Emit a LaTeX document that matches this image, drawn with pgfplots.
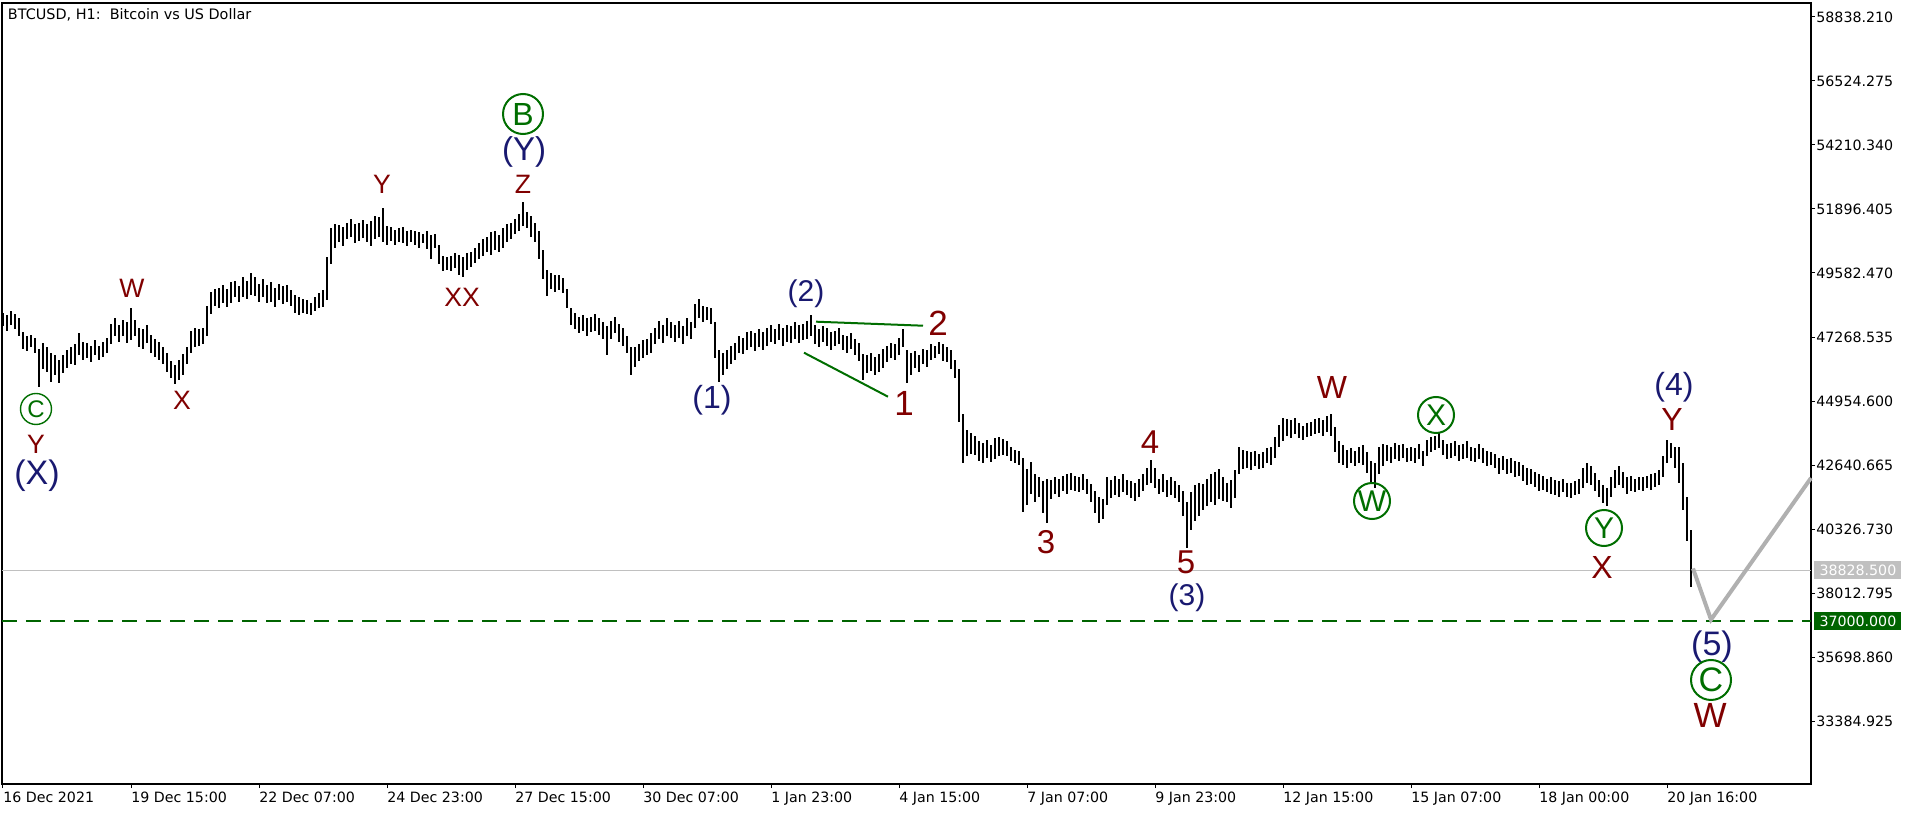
\documentclass[border=0pt]{standalone}
\usepackage{fontspec}
\setmainfont{DejaVu Sans}
\newfontfamily\arialf{Liberation Sans}
\usepackage{pgfplots}
\usepackage{pgfplotstable}
\pgfplotsset{compat=1.18}

\definecolor{ewred}{RGB}{128,0,0}
\definecolor{ewblue}{RGB}{25,25,112}
\definecolor{ewgreen}{RGB}{0,110,0}
\definecolor{lvlgreen}{RGB}{0,100,0}
\definecolor{lvlgray}{RGB}{192,192,192}
\definecolor{prjgray}{RGB}{176,176,176}

\newcommand\tkf{\fontsize{7.1}{8.5}\selectfont}
\newcommand\lbl[1]{\arialf\fontsize{#1}{#1}\selectfont}

% 2-hour high/low bars (t = hours from 16 Dec 23:00)
\pgfplotstableread{
t lo hi
0 47650 48150
2 47500 48050
4 47700 48200
6 47550 48100
8 47300 47950
10 46850 47450
12 46750 47300
14 46900 47350
16 46700 47250
18 45460 46850
20 46100 47050
22 46000 46900
24 45650 46700
26 45900 46600
28 45600 46450
30 45950 46600
32 46150 46800
34 46300 46900
36 46250 47000
38 46600 47400
40 46450 47100
42 46500 47050
44 46350 46950
46 46600 47150
48 46450 46950
50 46550 47100
52 46700 47250
54 47000 47750
56 47300 47950
58 47100 47700
60 47300 47900
62 47050 47800
64 47150 48320
66 47300 47900
68 46900 47600
70 46850 47550
72 47050 47700
74 46700 47350
76 46550 47200
78 46450 47100
80 46300 46900
82 46000 46700
84 45800 46400
86 45570 46250
88 45700 46450
90 45900 46650
92 46300 46900
94 46700 47500
96 46900 47600
98 46950 47550
100 47000 47600
102 47300 48400
104 48100 48900
106 48400 49000
108 48300 49050
110 48500 49150
112 48350 49000
114 48500 49250
116 48700 49300
118 48550 49100
120 48700 49450
122 48650 49300
124 48800 49580
126 48750 49450
128 48550 49200
130 48700 49350
132 48500 49150
134 48550 49250
136 48350 49050
138 48600 49200
140 48450 49100
142 48550 49150
144 48400 48950
146 48150 48800
148 48050 48700
150 48150 48650
152 48100 48600
154 48050 48500
156 48200 48700
158 48300 48850
160 48350 48950
162 48600 50150
164 49900 51200
166 50500 51350
168 50700 51300
170 50550 51250
172 50800 51400
174 50900 51550
176 50650 51350
178 50750 51400
180 50850 51500
182 50700 51350
184 50550 51450
186 50800 51650
188 50900 51600
190 50700 51930
192 50600 51300
194 50750 51250
196 50600 51150
198 50700 51200
200 50650 51250
202 50550 51100
204 50700 51150
206 50600 51100
208 50500 51050
210 50650 51000
212 50450 51100
214 50100 50950
216 50500 51000
218 49900 50600
220 49650 50200
222 49700 50150
224 49650 50200
226 49750 50300
228 49500 50250
230 49440 50150
232 49700 50300
234 49800 50350
236 49950 50500
238 50100 50650
240 50200 50800
242 50350 50900
244 50250 51050
246 50400 51100
248 50350 50950
250 50500 51200
252 50700 51350
254 50800 51400
256 51000 51550
258 51100 51700
260 51300 52150
262 51200 51800
264 50900 51650
266 50700 51400
268 50100 51100
270 49350 50400
272 48750 49700
274 49000 49600
276 48900 49500
278 48950 49500
280 48850 49400
282 48300 49000
284 47700 48300
286 47550 48150
288 47400 48000
290 47500 48050
292 47300 47950
294 47450 48000
296 47500 48100
298 47350 47950
300 47200 47800
302 46620 47650
304 47200 47850
306 47400 48000
308 47100 47750
310 46950 47600
312 46700 47300
314 45890 46900
316 46200 46900
318 46400 47000
320 46500 47150
322 46600 47200
324 46700 47400
326 47000 47600
328 47200 47850
330 47050 47700
332 47300 47950
334 47250 47800
336 47100 47700
338 47250 47850
340 47000 47650
342 47300 47950
344 47200 47800
346 47600 48450
348 47950 48640
350 47800 48400
352 47900 48350
354 47750 48300
356 46500 47800
358 45640 46800
360 45900 46700
362 46100 46800
364 46300 46950
366 46450 47050
368 46700 47300
370 46650 47250
372 46800 47450
374 46900 47500
376 46750 47400
378 46900 47550
380 46800 47450
382 46950 47600
384 47100 47700
386 47000 47550
388 47150 47750
390 46950 47600
392 47100 47700
394 47050 47650
396 47200 47800
398 47050 47700
400 47150 47750
402 47200 47850
404 47300 48060
406 47000 47700
408 46900 47550
410 47100 47650
412 46950 47600
414 46800 47450
416 46950 47500
418 47000 47600
420 46800 47350
422 46700 47300
424 46850 47400
426 46600 47200
428 46400 47050
430 45710 46650
432 45950 46600
434 46050 46700
436 45900 46550
438 46000 46650
440 46150 46850
442 46350 46950
444 46500 47050
446 46450 47000
448 46600 47250
450 46900 47560
452 45600 46800
454 45900 46700
456 46150 46750
458 46000 46600
460 46300 46850
462 46200 46800
464 46450 47000
466 46500 46950
468 46650 47090
470 46400 47000
472 46350 46900
474 46100 46800
476 45800 46450
478 44200 46100
480 42700 44500
482 42950 43900
484 43050 43800
486 43000 43700
488 42800 43500
490 42700 43450
492 42900 43550
494 42750 43350
496 42850 43600
498 42950 43650
500 43000 43580
502 42950 43500
504 42800 43300
506 42700 43200
508 42650 43150
510 40940 42900
512 41200 42500
514 41600 42750
516 41300 42300
518 41500 42200
520 40900 42050
522 40540 42150
524 41400 42100
526 41600 42200
528 41500 42150
530 41700 42250
532 41600 42300
534 41750 42350
536 41700 42250
538 41650 42200
540 41750 42300
542 41600 42150
544 41300 41950
546 40900 41700
548 40540 41500
550 40700 41400
552 41200 42200
554 41450 42100
556 41550 42250
558 41500 42150
560 41650 42300
562 41550 42100
564 41450 42050
566 41350 42000
568 41500 42150
570 41700 42300
572 41900 42550
574 42000 42820
576 41800 42550
578 41600 42150
580 41650 42300
582 41500 42100
584 41550 42200
586 41450 42050
588 41300 41900
590 40800 41700
592 39640 41300
594 40300 41650
596 40600 41900
598 40800 42000
600 41000 41950
602 41150 42150
604 41300 42300
606 41200 42400
608 41400 42500
610 41350 42200
612 41300 42000
614 41100 42100
616 41450 42450
618 42300 43300
620 42500 43200
622 42550 43150
624 42450 43100
626 42600 43150
628 42500 43050
630 42550 43100
632 42700 43250
634 42650 43300
636 42900 43650
638 43300 44100
640 43500 44350
642 43700 44300
644 43600 44250
646 43750 44350
648 43600 44150
650 43550 44050
652 43650 44150
654 43700 44200
656 43750 44300
658 43800 44350
660 43700 44250
662 43850 44400
664 43700 44480
666 43100 44000
668 42700 43500
670 42650 43350
672 42550 43200
674 42700 43250
676 42600 43150
678 42700 43300
680 42650 43350
682 42350 43100
684 42000 42800
686 41810 42700
688 42300 43300
690 42600 43400
692 42800 43350
694 42700 43300
696 42850 43450
698 42800 43350
700 42900 43400
702 42750 43250
704 42800 43300
706 42700 43250
708 42850 43400
710 42600 43150
712 42950 43550
714 43100 43650
716 43200 43700
718 43250 43830
720 43000 43550
722 42850 43400
724 42900 43450
726 42950 43500
728 42800 43350
730 42850 43400
732 42900 43500
734 42800 43300
736 42750 43250
738 42850 43400
740 42700 43250
742 42600 43150
744 42650 43100
746 42550 43050
748 42300 42900
750 42450 42950
752 42300 42850
754 42350 42900
756 42200 42800
758 42250 42750
760 42050 42650
762 41900 42550
764 41950 42500
766 41850 42400
768 41700 42300
770 41750 42250
772 41650 42150
774 41600 42200
776 41550 42100
778 41500 42050
780 41650 42150
782 41500 42000
784 41450 42000
786 41550 42050
788 41600 42150
790 41800 42550
792 42000 42700
794 41900 42600
796 41700 42350
798 41500 42100
800 41250 41900
802 41160 41800
804 41500 42200
806 41800 42450
808 41900 42600
810 41800 42400
812 41600 42200
814 41700 42250
816 41650 42150
818 41750 42200
820 41700 42200
822 41800 42250
824 41750 42300
826 41850 42350
828 41900 42450
830 42200 42950
832 42700 43545
834 42900 43450
836 42550 43300
838 42000 43300
840 41000 42700
842 39900 41500
844 38230 40300
}\bars

\begin{document}
\begin{tikzpicture}
\useasboundingbox (0,0) rectangle (958pt,406.5pt);
\begin{axis}[
  at={(1pt,14.5pt)}, anchor=south west,
  scale only axis, width=904.5pt, height=390.5pt,
  xmin=-0.5, xmax=904, ymin=31107.5, ymax=59344.5,
  clip=false,
  axis line style={black, line width=0.6pt},
  tick align=outside, major tick length=2pt,
  tick style={black, line width=0.5pt},
  xtick pos=left, xticklabel pos=left,
  ytick pos=right, yticklabel pos=right,
  xtick={0,64,...,832},
  xticklabels={16 Dec 2021,19 Dec 15:00,22 Dec 07:00,24 Dec 23:00,27 Dec 15:00,30 Dec 07:00,1 Jan 23:00,4 Jan 15:00,7 Jan 07:00,9 Jan 23:00,12 Jan 15:00,15 Jan 07:00,18 Jan 00:00,20 Jan 16:00},
  xticklabel style={anchor=north west, inner sep=0pt, font=\tkf, yshift=-2pt},
  ytick={58838.210,56524.275,54210.340,51896.405,49582.470,47268.535,44954.600,42640.665,40326.730,38012.795,35698.860,33384.925},
  yticklabels={58838.210,56524.275,54210.340,51896.405,49582.470,47268.535,44954.600,42640.665,40326.730,38012.795,35698.860,33384.925},
  yticklabel style={anchor=west, inner sep=0pt, font=\tkf, xshift=0.5pt},
  scaled y ticks=false,
]
% level lines
\addplot[lvlgray, line width=0.5pt] coordinates {(-0.5,38828.5) (904,38828.5)};
\addplot[lvlgreen, line width=0.7pt, dash pattern=on 7.5pt off 4.5pt] coordinates {(-0.5,37000) (904,37000)};

% price bars (high-low)
\addplot[draw=none, mark=none,
  error bars/.cd, y dir=both, y explicit, error mark=none,
  error bar style={draw=black, solid, line width=0.6pt}]
  table[x=t, y expr=(\thisrow{lo}+\thisrow{hi})/2, y error expr=(\thisrow{hi}-\thisrow{lo})/2] {\bars};

% triangle lines
\addplot[ewgreen, line width=1pt] coordinates {(406.5,47822) (460,47677)};
\addplot[ewgreen, line width=1pt] coordinates {(400.5,46701) (442.5,45110)};

% projected path
\addplot[prjgray, line width=2pt] coordinates {(845,38900) (854,37050) (904,42171)};

% title
\node[anchor=north west, inner sep=0pt, font=\fontsize{7.2}{8.5}\selectfont] at (rel axis cs:0,1) [xshift=2.8pt, yshift=-2.5pt] {BTCUSD, H1:\ \ Bitcoin vs US Dollar};

% right price boxes
\node[anchor=west, fill=lvlgray, text=white, inner sep=0pt, minimum width=43.5pt, minimum height=9pt, font=\tkf] at (axis cs:904,38828.5) [xshift=1.5pt] {38828.500};
\node[anchor=west, fill=lvlgreen, text=white, inner sep=0pt, minimum width=43.5pt, minimum height=9pt, font=\tkf] at (axis cs:904,37000) [xshift=1.5pt] {37000.000};

% wave labels, red
\node[text=ewred, font=\lbl{13.3}] at (axis cs:16.5,43400) {Y};
\node[text=ewred, font=\lbl{13.3}] at (axis cs:64.5,49040) {W};
\node[text=ewred, font=\lbl{13.3}] at (axis cs:89.5,44991) {X};
\node[text=ewred, font=\lbl{13.3}] at (axis cs:189.5,52800) {Y};
\node[text=ewred, font=\lbl{13.3}] at (axis cs:229.5,48715) {XX};
\node[text=ewred, font=\lbl{13.3}] at (axis cs:260,52800) {Z};
\node[text=ewred, font=\lbl{17.5}] at (axis cs:450.5,44883) {1};
\node[text=ewred, font=\lbl{17.5}] at (axis cs:467.5,47775) {2};
\node[text=ewred, font=\lbl{16.5}] at (axis cs:521.5,39857) {3};
\node[text=ewred, font=\lbl{16.5}] at (axis cs:573.5,43472) {4};
\node[text=ewred, font=\lbl{16.5}] at (axis cs:591.5,39134) {5};
\node[text=ewred, font=\lbl{16}] at (axis cs:664.5,45425) {W};
\node[text=ewred, font=\lbl{16}] at (axis cs:799.5,38953) {X};
\node[text=ewred, font=\lbl{16}] at (axis cs:834.5,44304) {Y};
\node[text=ewred, font=\lbl{17.5}] at (axis cs:853.5,33602) {W};

% wave labels, blue
\node[text=ewblue, font=\lbl{17}] at (axis cs:17,42243) {(X)};
\node[text=ewblue, font=\lbl{16.5}] at (axis cs:260.5,53958) {(Y)};
\node[text=ewblue, font=\lbl{16}] at (axis cs:354.5,44991) {(1)};
\node[text=ewblue, font=\lbl{15}] at (axis cs:401.5,48824) {(2)};
\node[text=ewblue, font=\lbl{15}] at (axis cs:592,37832) {(3)};
\node[text=ewblue, font=\lbl{16}] at (axis cs:835.5,45461) {(4)};
\node[text=ewblue, font=\lbl{17}] at (axis cs:854.5,36061) {(5)};

% wave labels, circled green
\node[circle, draw=ewgreen, line width=0.7pt, minimum size=15.5pt, inner sep=0pt, text=ewgreen, font=\lbl{12}] at (axis cs:16.5,44666) {C};
\node[circle, draw=ewgreen, line width=1pt, minimum size=20pt, inner sep=0pt, text=ewgreen, font=\lbl{16}] at (axis cs:260,55331) {B};
\node[circle, draw=ewgreen, line width=1pt, minimum size=18pt, inner sep=0pt, text=ewgreen, font=\lbl{15}] at (axis cs:684.5,41339) {W};
\node[circle, draw=ewgreen, line width=1pt, minimum size=18pt, inner sep=0pt, text=ewgreen, font=\lbl{15}] at (axis cs:716.5,44449) {X};
\node[circle, draw=ewgreen, line width=1pt, minimum size=18pt, inner sep=0pt, text=ewgreen, font=\lbl{15}] at (axis cs:800.5,40363) {Y};
\node[circle, draw=ewgreen, line width=1pt, minimum size=20pt, inner sep=0pt, text=ewgreen, font=\lbl{17}] at (axis cs:854,34868) {C};
\end{axis}
\end{tikzpicture}
\end{document}
